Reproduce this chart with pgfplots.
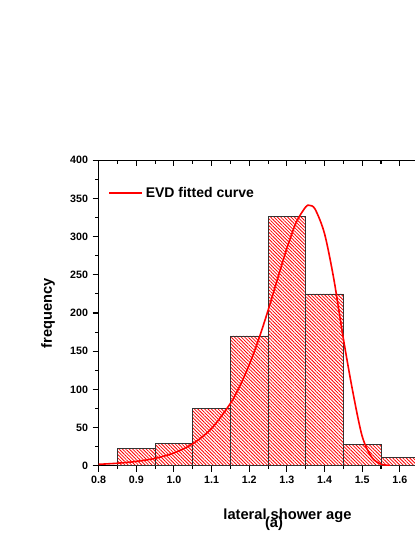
\documentclass[border=0pt]{standalone}
\usepackage{fontspec}
\setmainfont{Liberation Sans}
\usepackage{pgfplots}
\pgfplotsset{compat=1.18}
\usetikzlibrary{patterns.meta}

% histogram of lateral shower age, left edges + closing edge
\pgfplotstableread{
x    n
0.85 23
0.95 29
1.05 75
1.15 170
1.25 327
1.35 225
1.45 28
1.55 11
1.65 11
}\histdata

\pgfplotsset{
  frame/.style={
    scale only axis, width=282.4pt, height=229.05pt,
    xmin=0.8, xmax=1.8, ymin=0, ymax=400,
    xtick={0.8,0.9,1.0,1.1,1.2,1.3,1.4,1.5,1.6},
    ytick={0,50,100,150,200,250,300,350,400},
    minor x tick num=1, minor y tick num=1,
    major tick length=4.5pt, minor tick length=2.5pt,
    axis line style={line width=0.9pt},
    every tick/.style={line width=0.8pt, black},
  }
}

\begin{document}
\begin{tikzpicture}
\useasboundingbox (-74pt,-53.5pt) rectangle (237.2pt,349.3pt);

\begin{axis}[
    frame,
    at={(0,0)}, anchor=south west,
    tick align=outside,
    xtick pos=left, ytick pos=left,
    /pgf/number format/assume math mode=true,
    tick label style={font=\fontsize{8}{9}\selectfont\bfseries},
    xticklabel style={/pgf/number format/fixed, /pgf/number format/fixed zerofill, /pgf/number format/precision=1},
    yticklabel style={/pgf/number format/fixed, /pgf/number format/precision=0},
    xlabel={lateral shower age},
    ylabel={frequency},
    every axis x label/.style={at={(axis description cs:0.5015,-0.1760)}, anchor=base},
    every axis y label/.style={at={(axis description cs:-0.1346,0.5)}, rotate=90, anchor=center},
    label style={font=\fontsize{11}{12}\selectfont\bfseries},
    legend style={at={(axis description cs:0.0255,0.892)}, anchor=west, draw=none, fill=none,
                  inner sep=0pt, font=\fontsize{10.5}{12}\selectfont\bfseries},
    legend image code/.code={\draw[#1] (0pt,0pt) -- (24.75pt,0pt);},
]
\addplot[ybar interval, draw=black!80, line width=0.6pt,
         pattern={Lines[angle=-45, distance=1.8pt, line width=0.6pt]}, pattern color=red,
         forget plot] table[x=x, y=n] {\histdata};

\addplot[red, line width=1.2pt, smooth, mark=none] coordinates {
(0.80,1.8)(0.85,3.2)(0.90,5.6)(0.95,9.6)(1.00,16.7)(1.05,28.7)(1.10,48.8)
(1.15,81.6)(1.175,104.4)(1.20,132.3)(1.225,165.5)(1.25,203.4)(1.275,244.5)
(1.30,284.8)(1.325,319.0)(1.35,339.0)(1.36,341)(1.375,336.0)(1.40,303.9)
(1.425,243.5)(1.45,166.3)(1.475,97)(1.50,38.5)(1.525,11.2)(1.55,2.0)(1.575,0.3)
};
\addlegendentry{EVD fitted curve}
\end{axis}

% top axis: mirrored ticks pointing inwards
\begin{axis}[
    frame,
    at={(0,0)}, anchor=south west,
    tick align=inside,
    axis x line*=top, axis y line=none,
    xticklabels={}, yticklabels={},
]
\end{axis}

\node[anchor=base, font=\fontsize{11}{12}\selectfont\bfseries] at (131.5pt,-46pt) {(a)};
\end{tikzpicture}
\end{document}
